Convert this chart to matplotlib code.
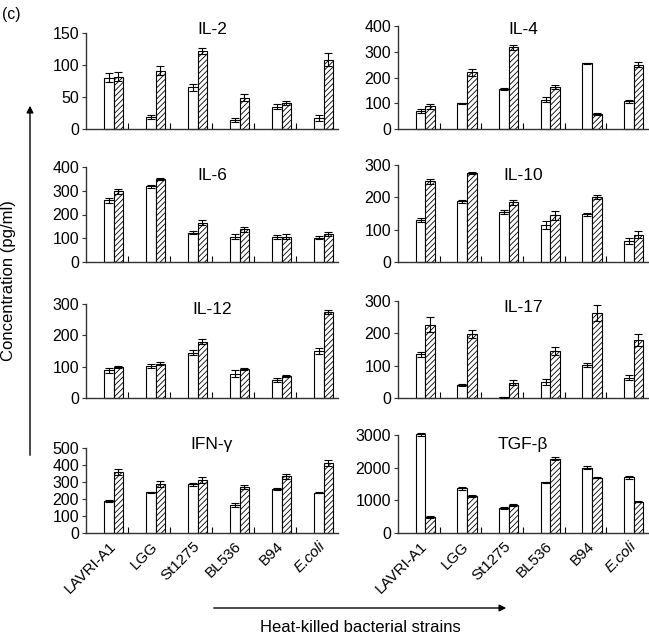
import matplotlib
matplotlib.use("Agg")
import matplotlib.pyplot as plt
import numpy as np

plt.rcParams['font.family'] = ['Liberation Sans', 'DejaVu Sans']
plt.rcParams['hatch.linewidth'] = 0.6

strains = ['LAVRI-A1', 'LGG', 'St1275', 'BL536', 'B94', 'E.coli']

cytokines = ['IL-2', 'IL-4', 'IL-6', 'IL-10', 'IL-12', 'IL-17', 'IFN-γ', 'TGF-β']

il2_white = [80, 19, 65, 14, 35, 17]
il2_white_err = [7, 3, 6, 3, 4, 5]
il2_hatch = [82, 91, 122, 49, 40, 108]
il2_hatch_err = [7, 7, 5, 5, 3, 10]

il4_white = [71, 100, 155, 113, 255, 107]
il4_white_err = [7, 2, 5, 10, 3, 6]
il4_hatch = [88, 220, 317, 162, 58, 249]
il4_hatch_err = [10, 13, 10, 8, 4, 10]

il6_white = [260, 318, 124, 107, 104, 103]
il6_white_err = [10, 6, 8, 12, 8, 8]
il6_hatch = [297, 349, 165, 138, 107, 118]
il6_hatch_err = [12, 5, 10, 10, 10, 10]

il10_white = [130, 188, 155, 115, 147, 65]
il10_white_err = [7, 5, 5, 12, 6, 10]
il10_hatch = [250, 275, 185, 145, 200, 85]
il10_hatch_err = [8, 4, 8, 14, 6, 10]

il12_white = [88, 102, 145, 78, 57, 150]
il12_white_err = [7, 5, 7, 10, 7, 9]
il12_hatch = [100, 110, 180, 93, 70, 275]
il12_hatch_err = [3, 6, 8, 4, 4, 7]

il17_white = [135, 40, 2, 50, 102, 63]
il17_white_err = [7, 4, 1, 9, 6, 7]
il17_hatch = [227, 197, 47, 145, 262, 180]
il17_hatch_err = [23, 12, 8, 12, 25, 18]

ifn_white = [188, 240, 287, 163, 257, 237]
ifn_white_err = [8, 4, 10, 12, 5, 4]
ifn_hatch = [358, 287, 312, 268, 333, 413]
ifn_hatch_err = [18, 18, 18, 12, 15, 18]

tgf_white = [3020, 1370, 780, 1550, 2000, 1700]
tgf_white_err = [40, 40, 30, 25, 40, 40]
tgf_hatch = [490, 1130, 860, 2270, 1690, 960]
tgf_hatch_err = [25, 20, 30, 50, 15, 15]

yticks_list = [
    [0, 50, 100, 150],
    [0, 100, 200, 300, 400],
    [0, 100, 200, 300, 400],
    [0, 100, 200, 300],
    [0, 100, 200, 300],
    [0, 100, 200, 300],
    [0, 100, 200, 300, 400, 500],
    [0, 1000, 2000, 3000],
]

panels = [
    (il2_white, il2_white_err, il2_hatch, il2_hatch_err),
    (il4_white, il4_white_err, il4_hatch, il4_hatch_err),
    (il6_white, il6_white_err, il6_hatch, il6_hatch_err),
    (il10_white, il10_white_err, il10_hatch, il10_hatch_err),
    (il12_white, il12_white_err, il12_hatch, il12_hatch_err),
    (il17_white, il17_white_err, il17_hatch, il17_hatch_err),
    (ifn_white, ifn_white_err, ifn_hatch, ifn_hatch_err),
    (tgf_white, tgf_white_err, tgf_hatch, tgf_hatch_err),
]

W, H = 649, 635
fig = plt.figure(figsize=(W / 100, H / 100), dpi=100)

col_x = [(86, 338), (398, 648)]
row_tb = [(33, 129), (26, 129), (167, 262), (165, 262),
          (304, 398), (301, 398), (448, 533), (435, 533)]
title_y = [29, 29, 176, 176, 309, 308, 445, 445]
title_x = [212, 523]

x = np.arange(len(strains))
bw = 0.23
left_lim = -0.655
right_lim = 5.345

for i, (wv, we, hv, he) in enumerate(panels):
    c = i % 2
    r = i // 2
    x0, x1 = col_x[c]
    t, b = row_tb[i]
    ax = fig.add_axes([x0 / W, 1 - b / H, (x1 - x0) / W, (b - t) / H])
    ax.bar(x - bw / 2, wv, bw, color='white', edgecolor='black', linewidth=0.8,
           zorder=2, clip_on=False)
    ax.bar(x + bw / 2, hv, bw, color='white', edgecolor='black', linewidth=0.8,
           hatch='//////', zorder=2, clip_on=False)
    ax.errorbar(x - bw / 2, wv, yerr=we, fmt='none', ecolor='black',
                elinewidth=0.8, capsize=3, capthick=0.8, zorder=3, clip_on=False)
    ax.errorbar(x + bw / 2, hv, yerr=he, fmt='none', ecolor='black',
                elinewidth=0.8, capsize=3, capthick=0.8, zorder=3, clip_on=False)
    yt = yticks_list[i]
    ax.set_ylim(0, yt[-1])
    ax.set_yticks(yt)
    ax.set_yticklabels([str(v) for v in yt], fontsize=11.5)
    ax.set_xlim(left_lim, right_lim)
    ax.spines['top'].set_visible(False)
    ax.spines['right'].set_visible(False)
    for s in ['left', 'bottom']:
        ax.spines[s].set_linewidth(1.0)
        ax.spines[s].set_color('#333333')
    ax.tick_params(axis='y', direction='out', length=3, width=0.8, pad=2,
                   colors='#333333', labelcolor='black')
    ax.set_xticks(np.arange(1, len(strains)) + left_lim, minor=True)
    ax.tick_params(axis='x', which='minor', direction='in', length=4, width=0.8)
    ax.set_xticks(x)
    if r == 3:
        ax.set_xticklabels(strains, rotation=45, ha='right', va='center',
                           rotation_mode='anchor', fontsize=11)
        ax.tick_params(axis='x', which='major', length=0, pad=8)
        for lbl in ax.get_xticklabels():
            if lbl.get_text() == 'E.coli':
                lbl.set_style('italic')
    else:
        ax.set_xticklabels([])
        ax.tick_params(axis='x', which='major', length=0)
    fig.text(title_x[c] / W, 1 - title_y[i] / H, cytokines[i], ha='center',
             va='center', fontsize=12.5)

fig.text(2 / W, 1 - 15 / H, '(c)', ha='left', va='center', fontsize=11.3)

fig.add_artist(matplotlib.patches.FancyArrowPatch(
    (30 / W, 1 - 458 / H), (30 / W, 1 - 103 / H), transform=fig.transFigure,
    arrowstyle='-|>', mutation_scale=10, color='black', linewidth=1.0))
fig.text(9 / W, 1 - 281 / H, 'Concentration (pg/ml)', rotation=90, ha='center',
         va='center', fontsize=12)

fig.add_artist(matplotlib.patches.FancyArrowPatch(
    (211 / W, 1 - 608 / H), (509 / W, 1 - 608 / H), transform=fig.transFigure,
    arrowstyle='-|>', mutation_scale=10, color='black', linewidth=1.0))
fig.text(360 / W, 1 - 627 / H, 'Heat-killed bacterial strains', ha='center',
         va='center', fontsize=12)

fig.savefig('out.png', dpi=100)
